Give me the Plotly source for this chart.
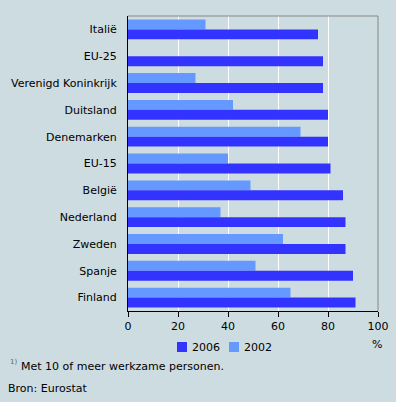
import plotly.graph_objects as go

categories = ["Italië", "EU-25", "Verenigd Koninkrijk", "Duitsland", "Denemarken",
              "EU-15", "België", "Nederland", "Zweden", "Spanje", "Finland"]
values_2006 = [76, 78, 78, 80, 80, 81, 86, 87, 87, 90, 91]
values_2002 = [31, None, 27, 42, 69, 40, 49, 37, 62, 51, 65]
tick_vals = [0, 20, 40, 60, 80, 100]
series_names = ["2006", "2002"]
series_colors = ["#3333FF", "#6699FF"]

BG = "#CDDCE0"
FONT = "DejaVu Sans"
W, H = 396, 402
L, R, T, B = 128, 18, 16, 91
PW, PH = W - L - R, H - T - B


def px(x):
    return (x - L) / PW


def py(y):
    return (H - B - y) / PH


fig = go.Figure()
fig.add_trace(go.Bar(y=categories, x=values_2002, name=series_names[1], orientation="h",
                     marker=dict(color=series_colors[1], line=dict(width=0)), showlegend=False))
fig.add_trace(go.Bar(y=categories, x=values_2006, name=series_names[0], orientation="h",
                     marker=dict(color=series_colors[0], line=dict(width=0)), showlegend=False))

shapes = [
    dict(type="line", xref="paper", yref="paper", x0=0, x1=1, y0=1, y1=1,
         line=dict(color="#888888", width=1)),
    dict(type="line", xref="paper", yref="paper", x0=1, x1=1, y0=0, y1=1,
         line=dict(color="#888888", width=1)),
]
annotations = []
legend_x = [177, 229]
for name, color, lx in zip(series_names, series_colors, legend_x):
    shapes.append(dict(type="rect", xref="paper", yref="paper",
                       x0=px(lx), x1=px(lx + 10), y0=py(352), y1=py(342),
                       fillcolor=color, line=dict(width=0)))
    annotations.append(dict(text=name, xref="paper", yref="paper", x=px(lx + 13), y=py(347),
                            showarrow=False, xanchor="left", yanchor="middle",
                            font=dict(family=FONT, size=11)))

annotations += [
    dict(text="%", xref="paper", yref="paper", x=px(377), y=py(344), showarrow=False,
         xanchor="center", yanchor="middle", font=dict(family=FONT, size=11)),
    dict(text="1)", xref="paper", yref="paper", x=px(8), y=py(362), showarrow=False,
         xanchor="left", yanchor="middle", font=dict(family=FONT, size=7, color="#666666")),
    dict(text="Met 10 of meer werkzame personen.", xref="paper", yref="paper",
         x=px(19), y=py(366), showarrow=False, xanchor="left", yanchor="middle",
         font=dict(family=FONT, size=11)),
    dict(text="Bron: Eurostat", xref="paper", yref="paper", x=px(6), y=py(388),
         showarrow=False, xanchor="left", yanchor="middle",
         font=dict(family=FONT, size=11)),
]

fig.update_layout(
    width=W, height=H,
    paper_bgcolor=BG, plot_bgcolor=BG,
    margin=dict(l=L, r=R, t=T, b=B, autoexpand=False),
    barmode="group", bargap=0.26, bargroupgap=0,
    font=dict(family=FONT, size=11, color="#000000"),
    showlegend=False,
    xaxis=dict(range=[0, 100], tickvals=tick_vals, showgrid=True, gridcolor="#FFFFFF",
               gridwidth=1, showline=True, linecolor="#000000", linewidth=1,
               ticks="outside", ticklen=5, tickcolor="#000000", zeroline=False,
               tickfont=dict(family=FONT, size=11)),
    yaxis=dict(autorange="reversed", showline=True, linecolor="#000000", linewidth=1,
               ticks="", showgrid=False, ticklabelstandoff=8,
               tickfont=dict(family=FONT, size=11)),
    shapes=shapes,
    annotations=annotations,
)

fig.write_html("out.html", config={"displayModeBar": False},
               post_script="document.body.style.margin='0';document.body.style.background='%s';" % BG)
